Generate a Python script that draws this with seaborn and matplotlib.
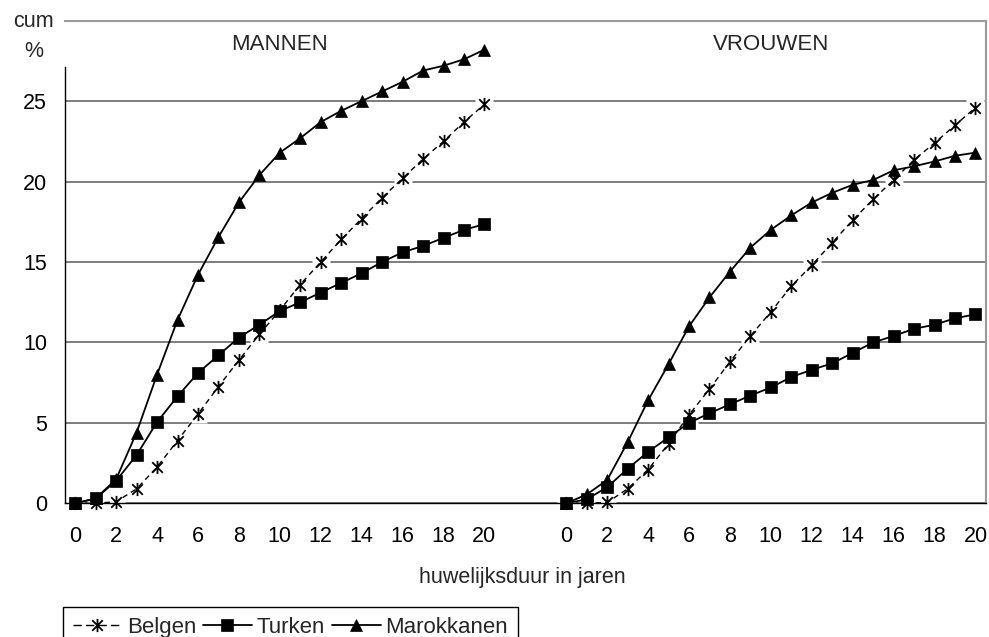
import numpy as np
import pandas as pd
import matplotlib
matplotlib.use("Agg")
import matplotlib.pyplot as plt
from matplotlib.path import Path
from matplotlib.lines import Line2D
import seaborn as sns

# ---------------- data ----------------
years = list(range(0, 21))
tick_labels = ["0", "2", "4", "6", "8", "10", "12", "14", "16", "18", "20"]

men_belgen = [0, 0, 0.1, 0.9, 2.25, 3.9, 5.55, 7.25, 8.9, 10.5, 12.0, 13.6, 15.0,
              16.4, 17.7, 19.0, 20.2, 21.4, 22.5, 23.7, 24.8]
men_turken = [0, 0.3, 1.4, 3.0, 5.05, 6.65, 8.1, 9.2, 10.3, 11.1, 11.95, 12.5, 13.1,
              13.7, 14.3, 15.0, 15.6, 16.0, 16.5, 17.0, 17.35]
men_marokkanen = [0, 0.3, 1.5, 4.4, 8.0, 11.4, 14.2, 16.55, 18.7, 20.4, 21.8, 22.7,
                  23.7, 24.4, 25.0, 25.6, 26.2, 26.9, 27.2, 27.6, 28.2]

women_belgen = [0, 0, 0.05, 0.9, 2.1, 3.7, 5.5, 7.1, 8.8, 10.4, 11.9, 13.5, 14.8,
                16.2, 17.6, 18.9, 20.1, 21.35, 22.4, 23.5, 24.6]
women_turken = [0, 0.25, 1.0, 2.15, 3.2, 4.1, 5.0, 5.6, 6.15, 6.7, 7.2, 7.85, 8.3,
                8.7, 9.35, 10.0, 10.4, 10.85, 11.1, 11.5, 11.75]
women_marokkanen = [0, 0.55, 1.45, 3.8, 6.4, 8.65, 11.0, 12.8, 14.4, 15.9, 17.0, 17.9,
                    18.7, 19.3, 19.8, 20.1, 20.7, 20.95, 21.25, 21.6, 21.8]

panels = ["MANNEN", "VROUWEN"]
series_names = ["Belgen", "Turken", "Marokkanen"]
y_ticks = [0, 5, 10, 15, 20, 25]

# ---------------- style ----------------
sns.set_theme(style="white")
plt.rcParams["font.family"] = ["Liberation Sans", "DejaVu Sans"]
FS = 15.5

W, H = 989, 637
fig = plt.figure(figsize=(W / 100, H / 100), dpi=100)
ax = fig.add_axes([65 / W, 1 - 503.3 / H, (985.7 - 65) / W, (503.3 - 20.7) / H])

# long-form frame
offset = {"MANNEN": 0, "VROUWEN": 24}
rows = []
for panel, b, t, m in [("MANNEN", men_belgen, men_turken, men_marokkanen),
                       ("VROUWEN", women_belgen, women_turken, women_marokkanen)]:
    for name, vals in zip(series_names, [b, t, m]):
        for yr, v in zip(years, vals):
            rows.append({"panel": panel, "serie": name, "jaar": yr,
                         "pos": yr + offset[panel], "cum": v})
df = pd.DataFrame(rows)

star = Path([(-1, -1), (1, 1), (-1, 1), (1, -1), (0, -1.25), (0, 1.25)],
            [Path.MOVETO, Path.LINETO, Path.MOVETO, Path.LINETO, Path.MOVETO, Path.LINETO])

styles = {
    "Belgen": dict(marker=star, markersize=9.5, markeredgewidth=1.3, linestyle=(0, (4, 3)),
                   linewidth=1.0, color="black", markerfacecolor="none", markeredgecolor="black"),
    "Turken": dict(marker="s", markersize=8, markeredgewidth=0.5, linestyle="-",
                   linewidth=1.3, color="black", markerfacecolor="black", markeredgecolor="black"),
    "Marokkanen": dict(marker="^", markersize=9, markeredgewidth=0.5, linestyle="-",
                       linewidth=1.3, color="black", markerfacecolor="black", markeredgecolor="black"),
}

ax.set_axisbelow(True)
for panel in panels:
    for name in series_names:
        d = df[(df.panel == panel) & (df.serie == name)]
        if name == "Belgen":
            # white halo behind the star markers (cuts the gridlines like the original)
            ax.plot(d.pos, d.cum, linestyle="none", marker="s", markersize=13,
                    markerfacecolor="white", markeredgecolor="none", zorder=1)
        sns.lineplot(data=d, x="pos", y="cum", ax=ax, legend=False,
                     clip_on=False, zorder=3 if name != "Belgen" else 2.5,
                     **styles[name])

# ---------------- axes ----------------
ax.set_xlim(-0.5, 44.5)
ax.set_ylim(0, 30)
ax.set_xlabel("")
ax.set_ylabel("")

ax.set_yticks(y_ticks)
ax.set_yticklabels([str(v) for v in y_ticks], fontsize=FS)
ax.yaxis.grid(True, color="#5a5a5a", linewidth=1.1)
ax.xaxis.grid(False)
ax.tick_params(axis="y", which="major", direction="out", length=5, width=1,
               color="black", pad=8, labelcolor="black")

ax.set_xticks(np.arange(-0.5, 45, 1.0))
ax.set_xticklabels([])
label_pos = [p + offset[panel] for panel in panels for p in range(0, 21, 2)]
ax.set_xticks(label_pos, minor=True)
ax.set_xticklabels(tick_labels * 2, minor=True, fontsize=FS)
ax.tick_params(axis="x", which="major", direction="out", length=5.8, width=1, color="black")
ax.tick_params(axis="x", which="minor", length=0, pad=16, labelcolor="black")

for s in ["top", "right"]:
    ax.spines[s].set_color("#9a9a9a")
    ax.spines[s].set_linewidth(1.5)
ax.spines["left"].set_color("black")
ax.spines["left"].set_linewidth(1.0)
ax.spines["left"].set_bounds(0, 27.1)
ax.spines["bottom"].set_color("black")
ax.spines["bottom"].set_linewidth(1.0)

# panel titles
ax.text(10, 28.53, panels[0], ha="center", va="center", fontsize=FS + 0.5)
ax.text(34, 28.53, panels[1], ha="center", va="center", fontsize=FS + 0.5)

# y label "cum %"
fig.text(33 / W, 1 - 26.7 / H, "cum", ha="center", va="baseline", fontsize=FS)
fig.text(34 / W, 1 - 56.7 / H, "%", ha="center", va="baseline", fontsize=FS)

# x label
fig.text(522 / W, 1 - 583 / H, "huwelijksduur in jaren", ha="center", va="baseline",
         fontsize=FS)

# legend
leg_styles = {n: dict(styles[n]) for n in series_names}
leg_styles["Belgen"]["linestyle"] = (0, (6, 3))
handles = [Line2D([], [], **leg_styles[n]) for n in series_names]
leg = fig.legend(handles, series_names, loc="upper left",
                 bbox_to_anchor=(63 / W, 1 - 606.7 / H), ncol=3, frameon=True,
                 fancybox=False, edgecolor="black", framealpha=1, fontsize=FS + 0.5,
                 handlelength=2.2, handletextpad=0.22, columnspacing=0.3,
                 borderpad=0.45, borderaxespad=0)
leg.get_frame().set_linewidth(1.0)

fig.savefig("out.png", dpi=100)
